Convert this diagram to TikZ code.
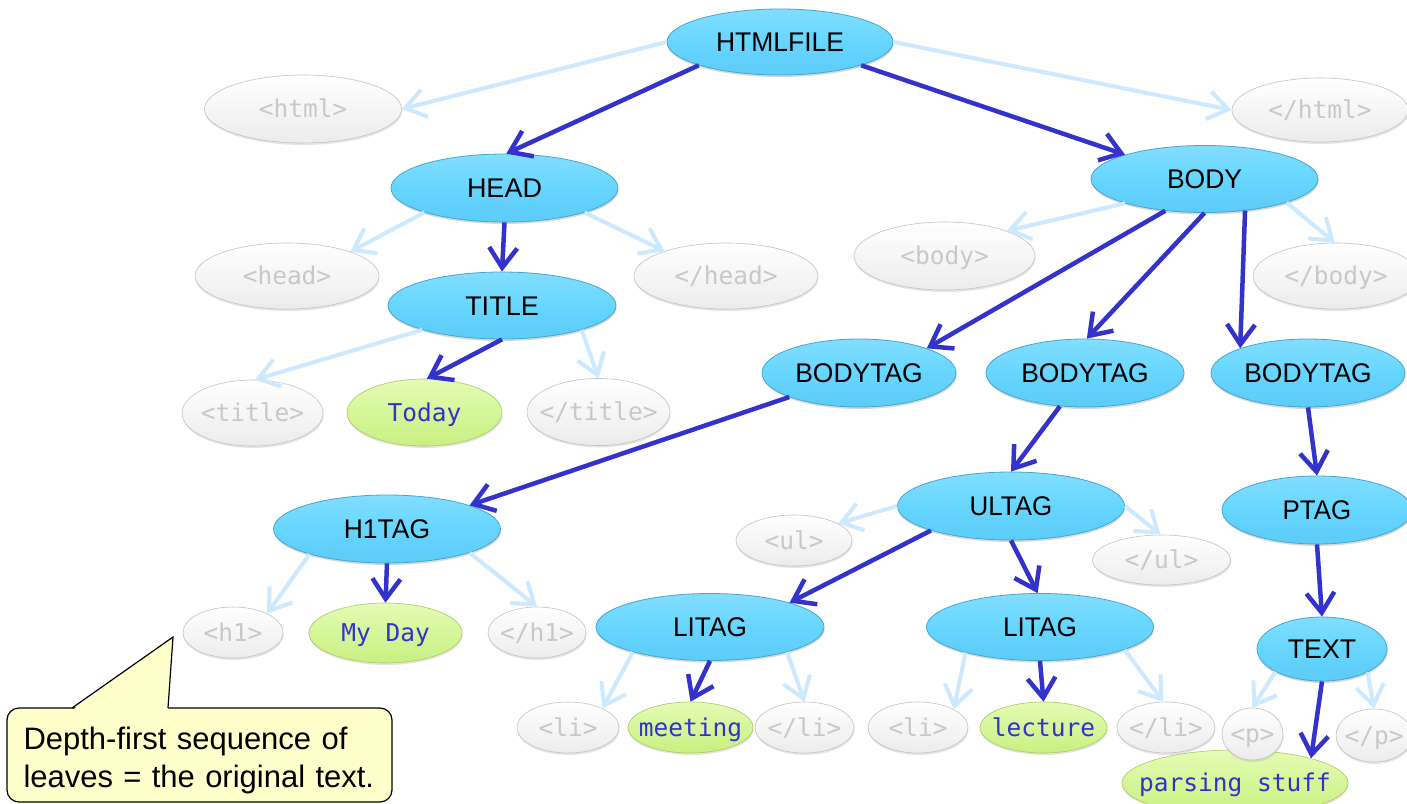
\documentclass[tikz,border=0pt]{standalone}
\usepackage{fontspec}
\setmainfont{Liberation Sans}
\newfontfamily\monof{DejaVu Sans Mono}
\usepackage{graphicx}
\usetikzlibrary{shapes.geometric,arrows.meta,shadows}

\definecolor{ntfill}{RGB}{102,214,255}
\definecolor{nttop}{RGB}{130,222,255}
\definecolor{ntbot}{RGB}{92,204,248}
\definecolor{ntline}{RGB}{70,165,210}
\definecolor{gtop}{RGB}{255,255,255}
\definecolor{gbot}{RGB}{236,236,236}
\definecolor{gline}{RGB}{195,195,195}
\definecolor{gtext}{RGB}{200,200,200}
\definecolor{lftop}{RGB}{228,252,180}
\definecolor{lfbot}{RGB}{200,240,128}
\definecolor{lfline}{RGB}{170,200,100}
\definecolor{lftext}{RGB}{51,51,204}
\definecolor{darkarr}{RGB}{51,51,204}
\definecolor{lightarr}{RGB}{204,233,255}
\definecolor{notefill}{RGB}{255,255,204}

\newcommand{\lab}[2]{\hbox to 0pt{\hss\scalebox{#1}[1]{#2}\hss}}
\newcommand{\tl}[1]{\hbox to 0pt{\hss#1\hss}}

\tikzset{
  sz/.style 2 args={minimum width=#1pt, minimum height=#2pt},
  nt/.style={ellipse, draw=ntline, line width=0.8pt, top color=nttop, bottom color=ntbot, middle color=ntfill,
    inner sep=0pt, font=\fontsize{27}{30}\selectfont, text=black, text height=19.3pt, text depth=0pt,
    drop shadow={opacity=0.3, shadow xshift=0.5pt, shadow yshift=-2pt}},
  tm/.style={ellipse, draw=gline, line width=0.6pt, top color=gtop, bottom color=gbot,
    inner sep=0pt, font=\monof\fontsize{24.5}{28}\selectfont, text=gtext, text height=17.9pt, text depth=0pt,
    drop shadow={opacity=0.2, shadow xshift=0.5pt, shadow yshift=-2pt}},
  leaf/.style={tm, draw=lfline, top color=lftop, bottom color=lfbot, text=lftext},
  dk/.style={draw=darkarr, line width=4.5pt, -{Straight Barb[length=20pt,width=28pt]}},
  lt/.style={draw=lightarr, line width=4pt, -{Straight Barb[length=20pt,width=28pt]}},
  note/.style={rectangle, rounded corners=12pt, draw=black, line width=1.2pt, fill=notefill,
    minimum width=385pt, minimum height=94pt, text width=352pt, align=left,
    font=\fontsize{31}{38}\selectfont, inner sep=0pt}
}

\begin{document}
\begin{tikzpicture}[x=1pt,y=-1pt]
\useasboundingbox (0,0) rectangle (1407,803);
\fill[white] (0,0) rectangle (1407,803);

% callout
\node[note] (note) at (199.5,755) {\rule{0pt}{34pt}Depth-first sequence of\\leaves = the original text.};
\coordinate (tip) at (173,637);
\fill[notefill] (72,710.5) -- (tip) -- (168,710.5) -- cycle;
\draw[line width=1.2pt, line join=miter] (72,708) -- (tip) -- (168,708);

% nonterminals
\node[nt, sz={226}{66}] (hf) at (780,42) {\lab{0.98}{HTMLFILE}};
\node[nt, sz={227}{68}] (head) at (504.5,188) {\lab{1}{HEAD}};
\node[nt, sz={228}{67}] (title) at (502,305.5) {\lab{1}{TITLE}};
\node[nt, sz={227}{67}] (body) at (1204.5,179) {\lab{0.98}{BODY}};
\node[nt, sz={194}{68}] (bt1) at (859,373) {\lab{0.98}{BODYTAG}};
\node[nt, sz={198}{68}] (bt2) at (1085,373) {\lab{0.98}{BODYTAG}};
\node[nt, sz={194}{68}] (bt3) at (1308,373) {\lab{0.98}{BODYTAG}};
\node[nt, sz={227}{68}] (h1tag) at (387,529) {\lab{0.98}{H1TAG}};
\node[nt, sz={227}{68}] (ultag) at (1011,506) {\lab{0.96}{ULTAG}};
\node[nt, sz={190}{68}] (ptag) at (1317,510) {\lab{0.96}{PTAG}};
\node[nt, sz={228}{67}] (litag1) at (710,627) {\lab{0.97}{LITAG}};
\node[nt, sz={227}{67}] (litag2) at (1040,627) {\lab{0.97}{LITAG}};
\node[nt, sz={130}{64}] (text) at (1322,649) {\lab{0.99}{TEXT}};

% terminals
\node[tm, sz={197}{68}] (thtml) at (303,109) {\tl{<html>}};
\node[tm, sz={176}{64}] (tehtml) at (1320,110) {\tl{</html>}};
\node[tm, sz={184}{66}] (thead) at (287,276) {\tl{<head>}};
\node[tm, sz={184}{66}] (tehead) at (726,276) {\tl{</head>}};
\node[tm, sz={181}{68}] (tbody) at (944.5,256) {\tl{<body>}};
\node[tm, sz={166}{66}] (tebody) at (1336,276) {\tl{</body>}};
\node[tm, sz={141}{66}] (ttitle) at (252.5,413) {\tl{<title>}};
\node[leaf, sz={155}{67}] (today) at (424.5,412.5) {\tl{Today}};
\node[tm, sz={143}{67}] (tetitle) at (598.5,412) {\tl{</title>}};
\node[tm, sz={100}{51}] (th1) at (233,632.5) {\tl{<h1>}};
\node[leaf, sz={153}{60}] (myday) at (385.5,633) {\tl{My Day}};
\node[tm, sz={98}{51}] (teh1) at (537,632.5) {\tl{</h1>}};
\node[tm, sz={116}{51}] (tul) at (794,540.5) {\tl{<ul>}};
\node[tm, sz={138}{50}] (teul) at (1161.5,560) {\tl{</ul>}};
\node[tm, sz={102}{51}] (tli1) at (568,727.5) {\tl{<li>}};
\node[leaf, sz={125}{51}] (meeting) at (690.5,727.5) {\tl{meeting}};
\node[tm, sz={99}{51}] (teli1) at (804.5,727.5) {\tl{</li>}};
\node[tm, sz={100}{51}] (tli2) at (918,727.5) {\tl{<li>}};
\node[leaf, sz={127}{51}] (lecture) at (1043.5,727.5) {\tl{lecture}};
\node[tm, sz={98}{51}] (teli2) at (1166,727.5) {\tl{</li>}};
\node[leaf, sz={226}{66}] (parsing) at (1235,783) {\tl{parsing stuff}};
\node[tm, sz={61}{52}] (tp) at (1252.5,734) {\tl{<p>}};
\node[tm, sz={76}{53}] (tep) at (1374,735.5) {\tl{</p>}};

% connectors
\draw[lt] (hf.180) -- (thtml.east);
\draw[lt] (hf.east) -- (tehtml.west);
\draw[dk] (hf.196) -- (head.87);
\draw[dk] (hf.344) -- (body.163);
\draw[lt] (head.197) -- (thead.21);
\draw[dk] (head.south) -- (title.north);
\draw[lt] (head.343) -- (tehead.158);
\draw[lt] (body.197) -- (tbody.22);
\draw[dk] (body.219) -- (bt1.20);
\draw[dk] (body.south) -- (bt2.87);
\draw[dk] (body.322) -- (bt3.160);
\draw[lt] (body.344) -- (tebody.92);
\draw[lt] (title.197) -- (ttitle.86);
\draw[dk] (title.south) -- (today.86);
\draw[lt] (title.343) -- (tetitle.north);
\draw[dk] (bt1.199) -- (h1tag.16);
\draw[dk] (bt2.233) -- (ultag.north);
\draw[dk] (bt3.south) -- (ptag.north);
\draw[lt] (h1tag.198) -- (th1.29);
\draw[dk] (h1tag.south) -- (myday.north);
\draw[lt] (h1tag.344) -- (teh1.north);
\draw[lt] (ultag.west) -- (tul.21);
\draw[dk] (ultag.197) -- (litag1.17);
\draw[dk] (ultag.south) -- (litag2.94);
\draw[lt] (ultag.east) -- (teul.92);
\draw[dk] (ptag.south) -- (text.north);
\draw[lt] (litag1.198) -- (tli1.29);
\draw[dk] (litag1.south) -- (meeting.north);
\draw[lt] (litag1.342) -- (teli1.north);
\draw[lt] (litag2.199) -- (tli2.27);
\draw[dk] (litag2.south) -- (lecture.north);
\draw[lt] (litag2.345) -- (teli2.96);
\draw[lt] (text.206) -- (tp.north);
\draw[dk] (text.south) -- (parsing.18);
\draw[lt] (text.333) -- (tep.north);
\end{tikzpicture}
\end{document}
